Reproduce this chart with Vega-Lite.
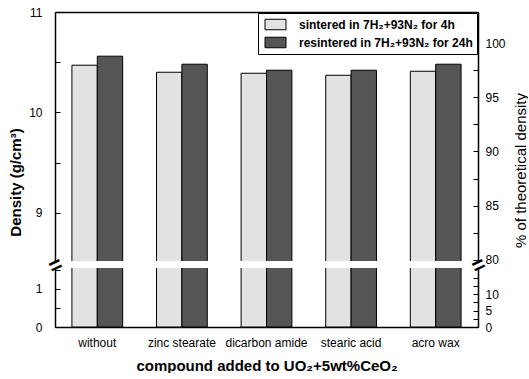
{
  "$schema": "https://vega.github.io/schema/vega-lite/v6.json",
  "background": "white",
  "padding": {"left": 8, "top": 6, "right": 0, "bottom": 0},
  "config": {
    "font": "Liberation Sans",
    "view": {"stroke": null},
    "concat": {"spacing": 7},
    "axis": {
      "grid": false,
      "domainColor": "black",
      "domainWidth": 1.5,
      "tickColor": "black",
      "tickWidth": 1,
      "labelColor": "black",
      "labelFont": "Liberation Sans",
      "labelFontSize": 12,
      "titleColor": "black",
      "titleFont": "Liberation Sans"
    }
  },
  "data": {
    "values": [
      {"compound": "without", "treatment": "sintered in 7H₂+93N₂ for 4h", "density": 10.47},
      {"compound": "without", "treatment": "resintered in 7H₂+93N₂ for 24h", "density": 10.56},
      {"compound": "zinc stearate", "treatment": "sintered in 7H₂+93N₂ for 4h", "density": 10.40},
      {"compound": "zinc stearate", "treatment": "resintered in 7H₂+93N₂ for 24h", "density": 10.48},
      {"compound": "dicarbon amide", "treatment": "sintered in 7H₂+93N₂ for 4h", "density": 10.39},
      {"compound": "dicarbon amide", "treatment": "resintered in 7H₂+93N₂ for 24h", "density": 10.42},
      {"compound": "stearic acid", "treatment": "sintered in 7H₂+93N₂ for 4h", "density": 10.37},
      {"compound": "stearic acid", "treatment": "resintered in 7H₂+93N₂ for 24h", "density": 10.42},
      {"compound": "acro wax", "treatment": "sintered in 7H₂+93N₂ for 4h", "density": 10.41},
      {"compound": "acro wax", "treatment": "resintered in 7H₂+93N₂ for 24h", "density": 10.48}
    ]
  },
  "bounds": "flush",
  "resolve": {"scale": {"color": "independent"}},
  "vconcat": [
    {
      "width": 423,
      "height": 249,
      "layer": [
        {
          "mark": {"type": "bar", "stroke": "black", "strokeWidth": 1, "clip": true},
          "encoding": {
            "x": {
              "field": "compound", "type": "nominal",
              "sort": ["without", "zinc stearate", "dicarbon amide", "stearic acid", "acro wax"],
              "scale": {"paddingInner": 0.4, "paddingOuter": 0.2},
              "axis": {"orient": "top", "labels": false, "ticks": false, "title": null}
            },
            "xOffset": {
              "field": "treatment",
              "sort": ["sintered in 7H₂+93N₂ for 4h", "resintered in 7H₂+93N₂ for 24h"]
            },
            "y": {
              "field": "density", "type": "quantitative",
              "scale": {"domain": [8.52, 11], "nice": false, "zero": false},
              "axis": {
                "orient": "left",
                "values": [9, 9.5, 10, 10.5, 11],
                "labelExpr": "datum.value % 1 === 0 ? format(datum.value, 'd') : ''",
                "tickSize": -5,
                "labelPadding": 18,
                "title": "Density (g/cm³)",
                "titleFontSize": 15,
                "titleFontWeight": "bold",
                "titlePadding": 5,
                "titleY": 170
              }
            },
            "color": {
              "field": "treatment", "type": "nominal",
              "scale": {
                "domain": ["sintered in 7H₂+93N₂ for 4h", "resintered in 7H₂+93N₂ for 24h"],
                "range": ["#e2e2e2", "#555555"]
              },
              "legend": {
                "orient": "top-right",
                "offset": 1,
                "title": null,
                "symbolType": "M-1.5,-0.75H1.5V0.75H-1.5Z",
                "symbolSize": 196,
                "symbolOffset": 6,
                "symbolStrokeColor": "black",
                "symbolStrokeWidth": 1,
                "labelFontSize": 12,
                "labelFontWeight": "bold",
                "labelColor": "black",
                "labelLimit": 300,
                "labelOffset": 16,
                "strokeColor": "black",
                "fillColor": "white",
                "padding": 4,
                "rowPadding": 3
              }
            }
          }
        },
        {
          "mark": {"type": "rule", "opacity": 0},
          "encoding": {
            "y": {
              "datum": 90, "type": "quantitative",
              "scale": {"domain": [79.9, 102.86], "nice": false, "zero": false},
              "axis": {
                "orient": "right",
                "values": [80, 82.5, 85, 87.5, 90, 92.5, 95, 97.5, 100],
                "labelExpr": "datum.value % 5 === 0 ? format(datum.value, 'd') : ''",
                "tickSize": -5,
                "labelPadding": 12,
                "title": "% of theoretical density",
                "titleFontSize": 15,
                "titleFontWeight": "normal",
                "titleAngle": 270,
                "titleBaseline": "top",
                "titleAlign": "center",
                "titleX": 35,
                "titleY": 158
              }
            }
          }
        }
      ],
      "resolve": {"scale": {"y": "independent"}}
    },
    {
      "width": 423,
      "height": 59,
      "layer": [
        {
          "mark": {"type": "bar", "stroke": "black", "strokeWidth": 1, "clip": true},
          "encoding": {
            "x": {
              "field": "compound", "type": "nominal",
              "sort": ["without", "zinc stearate", "dicarbon amide", "stearic acid", "acro wax"],
              "scale": {"paddingInner": 0.4, "paddingOuter": 0.2},
              "axis": {
                "orient": "bottom",
                "ticks": false,
                "labelAngle": 0,
                "labelPadding": 10,
                "title": "compound added to UO₂+5wt%CeO₂",
                "titleFontSize": 15,
                "titleFontWeight": "bold",
                "titlePadding": 10
              }
            },
            "xOffset": {
              "field": "treatment",
              "sort": ["sintered in 7H₂+93N₂ for 4h", "resintered in 7H₂+93N₂ for 24h"]
            },
            "y": {
              "field": "density", "type": "quantitative",
              "scale": {"domain": [0, 1.55], "nice": false},
              "axis": {
                "orient": "left",
                "values": [0, 0.5, 1, 1.5],
                "labelExpr": "datum.value % 1 === 0 ? format(datum.value, 'd') : ''",
                "tickSize": -5,
                "labelPadding": 18,
                "title": null
              }
            },
            "color": {
              "field": "treatment", "type": "nominal",
              "scale": {
                "domain": ["sintered in 7H₂+93N₂ for 4h", "resintered in 7H₂+93N₂ for 24h"],
                "range": ["#e2e2e2", "#555555"]
              },
              "legend": null
            }
          }
        },
        {
          "mark": {"type": "rule", "opacity": 0},
          "encoding": {
            "y": {
              "datum": 5, "type": "quantitative",
              "scale": {"domain": [0, 17.9], "nice": false},
              "axis": {
                "orient": "right",
                "values": [0, 2.5, 5, 7.5, 10, 12.5, 15],
                "labelExpr": "datum.value % 5 === 0 && datum.value < 15 ? format(datum.value, 'd') : ''",
                "tickSize": -5,
                "labelPadding": 12,
                "title": null
              }
            }
          }
        },
        {
          "mark": {"type": "rule", "opacity": 0},
          "encoding": {
            "y": {
              "datum": 0.5, "type": "quantitative",
              "scale": {"domain": [0, 1], "nice": false},
              "axis": {
                "orient": "left",
                "values": [1],
                "labelExpr": "'='",
                "domain": false,
                "ticks": false,
                "labelPadding": 0,
                "labelAlign": "center",
                "labelBaseline": "middle",
                "labelAngle": 335,
                "labelFontSize": 22,
                "labelFontWeight": "bold",
                "labelOffset": -3,
                "title": null
              }
            }
          }
        },
        {
          "mark": {"type": "rule", "opacity": 0},
          "encoding": {
            "y": {
              "datum": 0.5, "type": "quantitative",
              "scale": {"domain": [0, 1], "nice": false},
              "axis": {
                "orient": "right",
                "values": [1],
                "labelExpr": "'='",
                "domain": false,
                "ticks": false,
                "labelPadding": 0,
                "labelAlign": "center",
                "labelBaseline": "middle",
                "labelAngle": 335,
                "labelFontSize": 22,
                "labelFontWeight": "bold",
                "labelOffset": -3,
                "title": null
              }
            }
          }
        }
      ],
      "resolve": {"scale": {"y": "independent"}}
    }
  ]
}
